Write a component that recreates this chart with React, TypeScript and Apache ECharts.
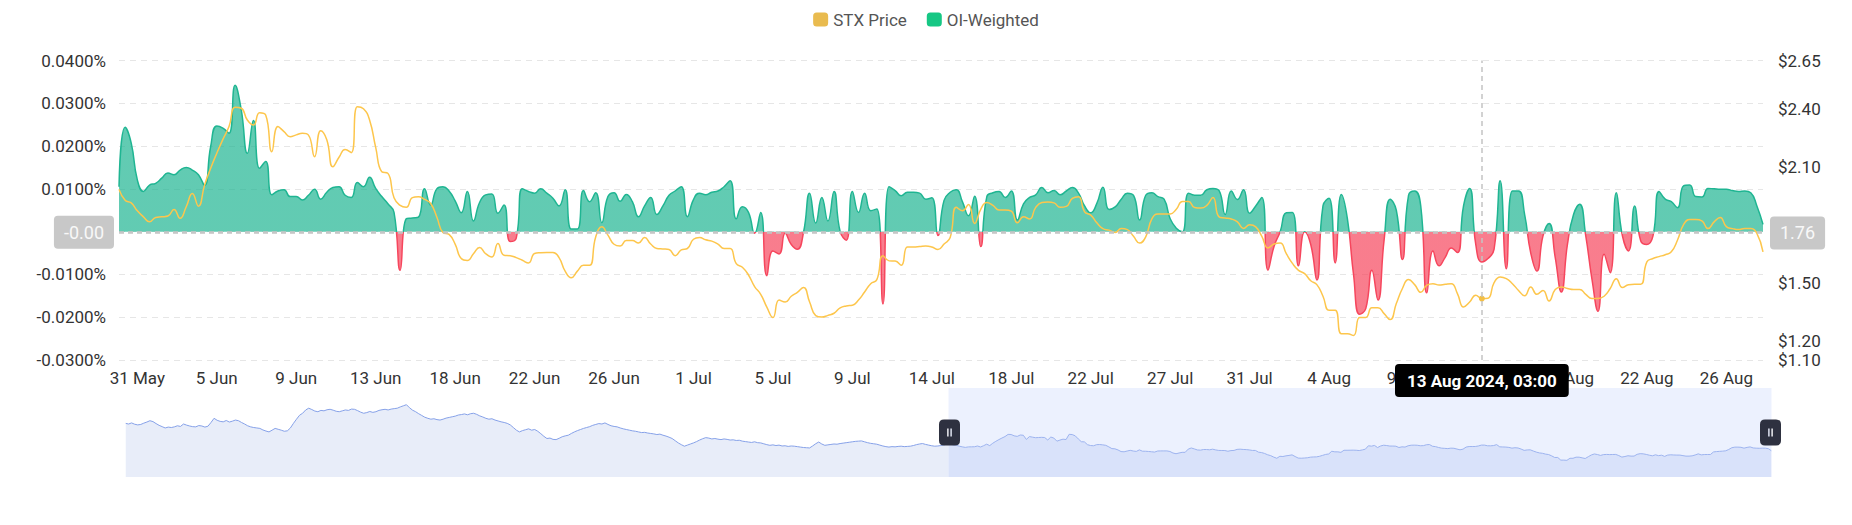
import React, { useEffect, useRef } from "react";
import * as echarts from "echarts";

// ---- Data ----
const MONTHS = ["Jan", "Feb", "Mar", "Apr", "May", "Jun", "Jul", "Aug", "Sep", "Oct", "Nov", "Dec"];
const FIRST_POINT_UTC = Date.UTC(2024, 2, 1, 19, 0); // 1 Mar 2024 19:00, 8-hour funding intervals
const STEP_MS = 8 * 3600 * 1000;
const POINT_COUNT = 540;

const pad2 = (n: number) => (n < 10 ? "0" + n : "" + n);
const categories: string[] = Array.from({ length: POINT_COUNT }, (_, i) => {
  const d = new Date(FIRST_POINT_UTC + i * STEP_MS);
  return `${d.getUTCFullYear()}-${pad2(d.getUTCMonth() + 1)}-${pad2(d.getUTCDate())} ${pad2(d.getUTCHours())}:00`;
});

// STX price, 1 Mar – 30 May (outside the zoom window, seen in the slider shadow)
const pricePrior = [
  2.91, 2.88, 2.93, 2.87, 2.84, 2.86, 2.92, 2.97, 3.03, 2.99,
  2.9, 2.82, 2.76, 2.7, 2.74, 2.72, 2.75, 2.8, 2.77, 2.88,
  2.83, 2.79, 2.76, 2.75, 2.81, 2.79, 2.74, 2.78, 2.95, 3.14,
  3.05, 3.0, 2.98, 3.04, 2.97, 3.01, 3.06, 3.03, 2.95, 2.88,
  2.8, 2.75, 2.72, 2.7, 2.68, 2.61, 2.56, 2.52, 2.6, 2.68,
  2.64, 2.6, 2.55, 2.57, 2.7, 2.91, 3.1, 3.28, 3.37, 3.52,
  3.6, 3.54, 3.47, 3.44, 3.5, 3.48, 3.53, 3.55, 3.51, 3.46,
  3.44, 3.48, 3.52, 3.5, 3.56, 3.55, 3.49, 3.42, 3.37, 3.4,
  3.45, 3.41, 3.44, 3.5, 3.53, 3.55, 3.52, 3.56, 3.58, 3.6,
  3.66, 3.71, 3.76, 3.62, 3.51, 3.44, 3.35, 3.27, 3.19, 3.14,
  3.1, 3.12, 3.08, 3.06, 3.1, 3.15, 3.18, 3.21, 3.24, 3.29,
  3.31, 3.34, 3.3, 3.35, 3.37, 3.32, 3.25, 3.2, 3.14, 3.1,
  3.12, 3.06, 3.02, 2.98, 2.95, 2.91, 2.84, 2.72, 2.6, 2.52,
  2.58, 2.62, 2.66, 2.6, 2.63, 2.55, 2.44, 2.32, 2.22, 2.24,
  2.18, 2.17, 2.23, 2.3, 2.34, 2.37, 2.45, 2.52, 2.58, 2.63,
  2.68, 2.72, 2.76, 2.82, 2.86, 2.9, 2.88, 2.93, 2.86, 2.8,
  2.77, 2.75, 2.7, 2.66, 2.63, 2.6, 2.57, 2.55, 2.52, 2.49,
  2.5, 2.47, 2.45, 2.43, 2.4, 2.42, 2.37, 2.33, 2.28, 2.22,
  2.12, 2.02, 1.94, 1.87, 1.92, 1.97, 2.02, 2.08, 2.15, 2.21,
  2.26, 2.24, 2.2, 2.22, 2.19, 2.17, 2.2, 2.18, 2.15, 2.16,
  2.13, 2.14, 2.1, 2.08, 2.06, 2.04, 2.07, 2.03, 2.02, 1.98,
  1.94, 1.91, 1.93, 1.9, 1.92, 1.88, 1.89, 1.86, 1.88, 1.87,
  1.85, 1.83, 1.81, 1.8, 1.79, 1.88, 1.98, 2.06, 1.97, 1.91,
  1.93, 1.95, 1.97, 1.96, 1.99, 2.01, 2.03, 2.05, 2.07, 2.09,
  2.1, 2.11, 2.07, 2.03, 2.0, 1.98, 1.96, 1.92, 1.88, 1.85,
  1.83, 1.85, 1.84, 1.86, 1.87, 1.85, 1.86, 1.87, 1.9, 1.94,
  1.97, 1.99, 1.95, 1.92, 1.89, 1.87, 1.88, 1.9, 1.93, 1.96,
];

// STX price, 30 May 19:00 – 28 Aug 11:00 (visible window)
const priceWindow = [
  1.983, 1.927, 1.913, 1.872, 1.841, 1.815, 1.838, 1.841, 1.845, 1.879,
  1.833, 1.893, 1.962, 1.896, 2.005, 2.092, 2.17, 2.242, 2.308, 2.408,
  2.403, 2.342, 2.316, 2.38, 2.368, 2.178, 2.308, 2.282, 2.256, 2.265,
  2.273, 2.264, 2.152, 2.287, 2.24, 2.1, 2.149, 2.19, 2.173, 2.411,
  2.4, 2.342, 2.2, 2.074, 2.066, 1.94, 1.9, 1.89, 1.94, 1.945,
  1.931, 1.91, 1.84, 1.76, 1.75, 1.7, 1.625, 1.615, 1.65, 1.682,
  1.65, 1.633, 1.703, 1.642, 1.64, 1.63, 1.616, 1.602, 1.651, 1.655,
  1.656, 1.656, 1.63, 1.56, 1.526, 1.56, 1.59, 1.59, 1.737, 1.789,
  1.746, 1.699, 1.69, 1.718, 1.718, 1.706, 1.734, 1.7, 1.677, 1.675,
  1.672, 1.64, 1.67, 1.677, 1.725, 1.734, 1.722, 1.715, 1.7, 1.677,
  1.677, 1.599, 1.58, 1.54, 1.48, 1.44, 1.374, 1.32, 1.41, 1.4,
  1.43, 1.45, 1.475, 1.4, 1.33, 1.322, 1.331, 1.342, 1.37, 1.38,
  1.383, 1.41, 1.452, 1.495, 1.516, 1.64, 1.613, 1.612, 1.59, 1.685,
  1.685, 1.687, 1.69, 1.685, 1.672, 1.7, 1.734, 1.89, 1.872, 1.905,
  1.807, 1.88, 1.915, 1.9, 1.876, 1.876, 1.87, 1.81, 1.841, 1.83,
  1.89, 1.915, 1.918, 1.913, 1.89, 1.895, 1.936, 1.945, 1.867, 1.85,
  1.81, 1.78, 1.772, 1.76, 1.781, 1.775, 1.74, 1.705, 1.737, 1.83,
  1.855, 1.855, 1.856, 1.88, 1.92, 1.92, 1.889, 1.886, 1.9, 1.941,
  1.841, 1.835, 1.83, 1.815, 1.781, 1.8, 1.789, 1.74, 1.68, 1.7,
  1.705, 1.65, 1.6, 1.564, 1.547, 1.51, 1.49, 1.43, 1.357, 1.357,
  1.236, 1.236, 1.227, 1.32, 1.32, 1.37, 1.37, 1.34, 1.309, 1.392,
  1.47, 1.516, 1.49, 1.45, 1.487, 1.495, 1.488, 1.492, 1.495, 1.444,
  1.374, 1.4, 1.435, 1.418, 1.42, 1.5, 1.53, 1.521, 1.495, 1.46,
  1.432, 1.478, 1.44, 1.46, 1.405, 1.465, 1.478, 1.47, 1.465, 1.465,
  1.44, 1.418, 1.418, 1.43, 1.47, 1.521, 1.475, 1.49, 1.492, 1.492,
  1.608, 1.625, 1.635, 1.645, 1.66, 1.72, 1.8, 1.827, 1.827, 1.82,
  1.78, 1.815, 1.838, 1.79, 1.78, 1.775, 1.781, 1.78, 1.755, 1.659,
];

// OI-weighted funding rate (%), visible window
const fundingWindow = [
  0.0105, 0.0244, 0.0207, 0.0121, 0.0094, 0.0109, 0.0113, 0.0125, 0.0137, 0.0133,
  0.0144, 0.015, 0.0144, 0.0133, 0.0108, 0.0199, 0.0247, 0.0242, 0.023, 0.0342,
  0.0285, 0.0183, 0.026, 0.0148, 0.0164, 0.0086, 0.0095, 0.0098, 0.0082, 0.0082,
  0.0074, 0.0085, 0.0099, 0.0076, 0.0092, 0.0103, 0.0105, 0.0085, 0.008, 0.0115,
  0.0105, 0.0127, 0.0101, 0.0082, 0.0065, 0.0045, -0.009, 0.003, 0.0032, 0.0034,
  0.01, 0.0062, 0.01, 0.0105, 0.0095, 0.0072, 0.0044, 0.0094, 0.0025, 0.0068,
  0.0086, 0.0088, 0.0043, 0.0062, -0.0023, -0.0015, 0.01, 0.0094, 0.009, 0.01,
  0.009, 0.0078, 0.006, 0.0098, 0.0006, 0.0006, 0.0096, 0.007, 0.0091, 0.0021,
  0.0082, 0.0091, 0.0071, 0.0087, 0.007, 0.0035, 0.006, 0.008, 0.004, 0.006,
  0.0085, 0.0095, 0.0105, 0.0035, 0.0075, 0.009, 0.0086, 0.0092, 0.0095, 0.0105,
  0.0119, 0.003, 0.0058, 0.0045, -0.0004, 0.0045, -0.0103, -0.0045, -0.0052, -0.0004,
  -0.003, -0.0041, -0.0002, 0.009, 0.002, 0.008, 0.0025, 0.0094, 0.0, -0.002,
  0.0094, 0.0045, 0.009, 0.0049, 0.0053, -0.0169, 0.0105, 0.0096, 0.0084, 0.0092,
  0.0092, 0.009, 0.0076, 0.0079, -0.0009, 0.0073, 0.0092, 0.0098, 0.007, 0.0037,
  0.0083, -0.0035, 0.0082, 0.0091, 0.0094, 0.008, 0.0095, 0.0027, 0.0065, 0.008,
  0.0086, 0.0103, 0.0091, 0.0096, 0.0086, 0.0095, 0.0103, 0.009, 0.006, 0.0044,
  0.0066, 0.0104, 0.0052, 0.0058, 0.0076, 0.009, 0.0085, 0.0027, 0.0085, 0.0091,
  0.0082, 0.0076, 0.003, 0.0008, 0.0, 0.009, 0.0085, 0.0085, 0.0098, 0.0101,
  0.0096, 0.004, 0.0095, 0.0075, 0.0098, 0.0043, 0.006, 0.008, -0.009, -0.0034,
  0.0, 0.0044, 0.0045, -0.008, 0.0, -0.003, -0.0113, 0.006, 0.0078, -0.0073,
  0.0087, 0.003, -0.01, -0.0193, -0.018, -0.009, -0.016, -0.002, 0.0076, 0.005,
  -0.0065, 0.0085, 0.0095, 0.006, -0.0143, -0.0045, -0.008, -0.006, -0.0038, -0.0049,
  0.006, 0.0101, -0.003, -0.0071, -0.0063, -0.0041, 0.0119, -0.0087, 0.0095, 0.0095,
  0.004, -0.005, -0.0092, -0.001, 0.0019, -0.006, -0.0141, -0.003, 0.004, 0.0064,
  -0.001, -0.011, -0.0186, -0.0053, -0.0096, 0.0091, -0.001, -0.0045, 0.006, -0.0022,
  -0.003, -0.001, 0.0094, 0.0076, 0.007, 0.0056, 0.0107, 0.0109, 0.0082, 0.0081,
  0.0101, 0.01, 0.0099, 0.0099, 0.0096, 0.0094, 0.0095, 0.0091, 0.006, 0.0017,
];

const priceTickValues = [1.1, 1.2, 1.5, 2.1, 2.4, 2.65];
const seriesNames = ["STX Price", "OI-Weighted"];
const pointerIndex = 493; // 13 Aug 2024, 03:00
const labelStep = 13;

const priceAll = pricePrior.concat(priceWindow);
const fundingAll: (number | null)[] = (new Array(POINT_COUNT - fundingWindow.length).fill(null) as (number | null)[]).concat(fundingWindow);

const parseCat = (s: string) => {
  const m = /(\d+)-(\d+)-(\d+) (\d+):(\d+)/.exec(s);
  if (!m) return null;
  return { y: +m[1], mo: +m[2] - 1, d: +m[3], h: m[4], mi: m[5] };
};
const shortDate = (s: string) => {
  const p = parseCat(s);
  return p ? `${p.d} ${MONTHS[p.mo]}` : s;
};
const longDate = (s: string) => {
  const p = parseCat(s);
  return p ? `${p.d} ${MONTHS[p.mo]} ${p.y}, ${p.h}:${p.mi}` : s;
};

const HANDLE_PATH =
  "path://M5,0 L16,0 Q21,0 21,5 L21,21 Q21,26 16,26 L5,26 Q0,26 0,21 L0,5 Q0,0 5,0 Z " +
  "M8.2,9 L8.2,17 L9.6,17 L9.6,9 Z M11.4,9 L11.4,17 L12.8,17 L12.8,9 Z";

const FONT = "Roboto";
const pointerLine = { color: "#c4c4c4", type: [5, 4] as any, width: 1.5 };

function buildOption(withMark: boolean) {
  const yPointer = (value: number, margin: number) => ({
    show: true,
    status: "show",
    value,
    snap: false,
    type: "line",
    lineStyle: pointerLine,
    label: {
      show: true,
      backgroundColor: "#c8c8c8",
      color: "#f8f8f8",
      fontSize: 18,
      lineHeight: 19,
      padding: [7, 10],
      borderRadius: 4,
      margin,
      fontFamily: FONT,
      formatter: (p: any) => Number(p.value).toFixed(2),
    },
  });
  return {
    animation: false,
    textStyle: { fontFamily: FONT },
    legend: {
      top: 11,
      left: "center",
      icon: "roundRect",
      itemWidth: 15,
      itemHeight: 14,
      itemGap: 20,
      padding: 0,
      textStyle: { fontSize: 17, color: "#555", fontFamily: FONT },
      data: [
        { name: seriesNames[0], itemStyle: { color: "#e9bb4f" } },
        { name: seriesNames[1], itemStyle: { color: "#16c784" } },
      ],
    },
    grid: { left: 119, right: 89, top: 60.5, height: 299.5 },
    xAxis: {
      type: "category",
      data: categories,
      boundaryGap: false,
      axisLine: { show: false },
      axisTick: { show: false },
      splitLine: { show: false },
      axisLabel: {
        interval: (i: number) => i % labelStep === 0,
        margin: 9,
        fontSize: 17,
        color: "#333",
        fontFamily: FONT,
        formatter: (v: string) => shortDate(v),
      },
      axisPointer: {
        show: true,
        status: "show",
        value: pointerIndex,
        snap: false,
        type: "line",
        lineStyle: pointerLine,
        label: {
          show: true,
          backgroundColor: "#000",
          color: "#fff",
          fontWeight: "bold",
          fontSize: 17,
          lineHeight: 19,
          padding: [7, 12],
          borderRadius: 4,
          margin: 4,
          fontFamily: FONT,
          formatter: (p: any) => longDate(String(p.value)),
        },
      },
    },
    yAxis: [
      {
        type: "value",
        position: "left",
        min: -0.03,
        max: 0.04,
        interval: 0.01,
        axisLine: { show: false },
        axisTick: { show: false },
        splitLine: { show: true, lineStyle: { color: "#e6e6e6", type: [6, 5], width: 1 } },
        axisLabel: {
          margin: 13,
          fontSize: 17,
          color: "#333",
          fontFamily: FONT,
          formatter: (v: number) => (Math.abs(v) < 1e-9 ? "" : v.toFixed(4) + "%"),
        },
        axisPointer: yPointer(-0.00001, 5),
      },
      {
        type: "value",
        position: "right",
        min: 1.1,
        max: 2.65,
        splitLine: { show: false },
        axisLine: { show: false },
        axisTick: { show: false },
        axisLabel: {
          customValues: priceTickValues,
          margin: 15,
          fontSize: 17,
          color: "#333",
          fontFamily: FONT,
          formatter: (v: number) => "$" + v.toFixed(2),
        },
        axisPointer: yPointer(1.76, 7),
      },
    ],
    visualMap: {
      show: false,
      type: "piecewise",
      seriesIndex: 1,
      dimension: 1,
      pieces: [
        { gt: 0, lte: 1, color: "#1fb592" },
        { gt: -1, lte: 0, color: "#f6465d" },
      ],
      outOfRange: { color: "#1fb592" },
    },
    dataZoom: [
      {
        type: "slider",
        xAxisIndex: 0,
        start: 50,
        end: 100,
        left: 123,
        right: 83,
        top: 388,
        height: 89,
        showDetail: false,
        brushSelect: false,
        moveHandleSize: 0,
        showDataShadow: true,
        borderColor: "transparent",
        backgroundColor: "transparent",
        fillerColor: "rgba(200,215,252,0.35)",
        dataBackground: {
          lineStyle: { color: "#86a1e8", width: 1, opacity: 1 },
          areaStyle: { color: "#e8edf9", opacity: 1 },
        },
        selectedDataBackground: {
          lineStyle: { color: "#86a1e8", width: 1, opacity: 1 },
          areaStyle: { color: "#e2e8f9", opacity: 1 },
        },
        handleIcon: HANDLE_PATH,
        handleSize: 26,
        handleStyle: { color: "#2e3140", borderColor: "#2e3140", borderWidth: 0 },
      },
    ],
    series: [
      {
        name: seriesNames[0],
        type: "line",
        yAxisIndex: 1,
        data: priceAll,
        smooth: true,
        showSymbol: false,
        z: 4,
        itemStyle: { color: "#e9bb4f" },
        lineStyle: { color: "#fdc64c", width: 1.5 },
        markPoint: withMark
          ? {
              symbol: "circle",
              symbolSize: 6,
              itemStyle: { color: "#f3bf45" },
              label: { show: false },
              data: [{ coord: [pointerIndex, priceAll[pointerIndex]] }],
            }
          : undefined,
      },
      {
        name: seriesNames[1],
        type: "line",
        yAxisIndex: 0,
        data: fundingAll,
        smooth: true,
        showSymbol: false,
        z: 2,
        itemStyle: { color: "#16c784" },
        lineStyle: { width: 1.5 },
        areaStyle: { opacity: 0.7 },
      },
    ],
  };
}

export default function App() {
  const ref = useRef<HTMLDivElement>(null);
  useEffect(() => {
    if (!ref.current) return;
    const chart = echarts.init(ref.current, undefined, { renderer: "svg" });
    try {
      chart.setOption(buildOption(true) as any);
    } catch (e) {
      chart.clear();
      chart.setOption(buildOption(false) as any);
    }
    return () => chart.dispose();
  }, []);
  return (
    <div
      ref={ref}
      style={{ position: "fixed", left: 0, top: 0, width: 1852, height: 525, background: "#fff" }}
    />
  );
}
